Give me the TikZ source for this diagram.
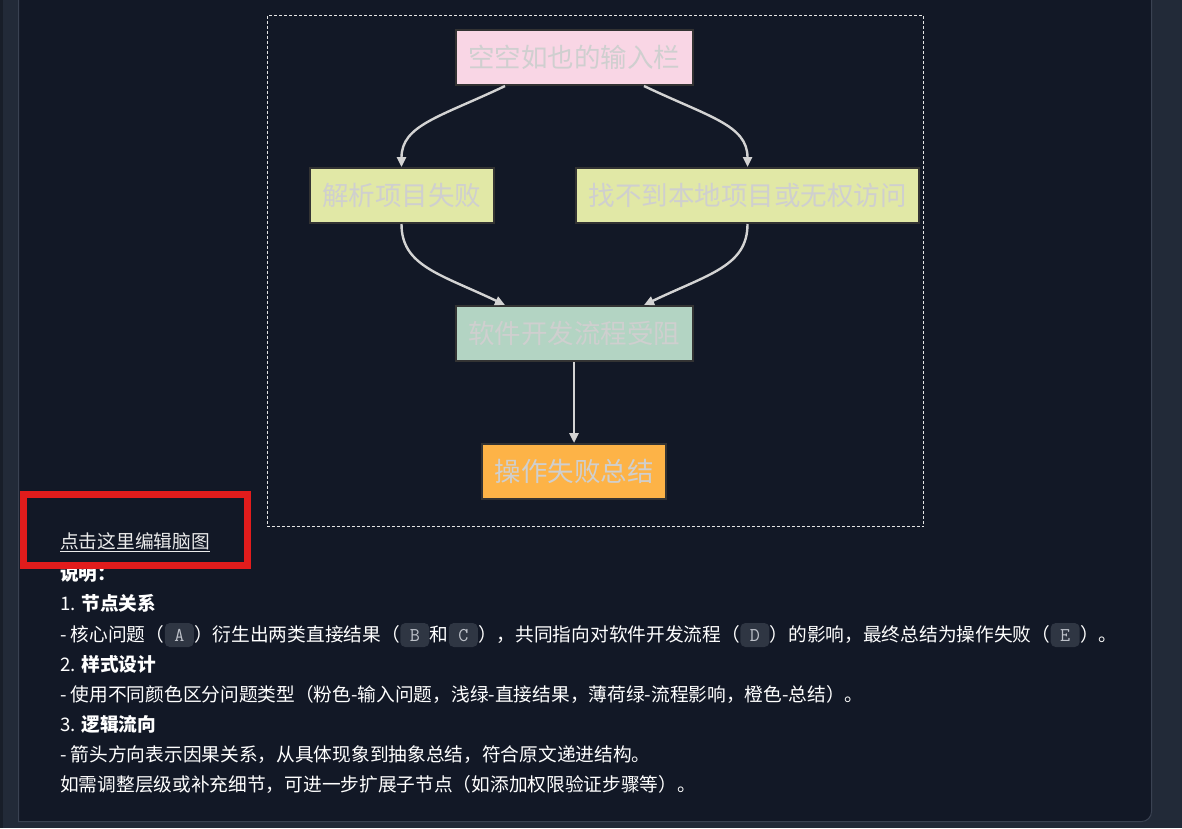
\documentclass[tikz,border=0pt]{standalone}
\usepackage{fontspec}
\setmainfont{Noto Sans CJK SC}
\usepackage{xcolor}
\usepackage{tikz}
\usetikzlibrary{arrows.meta,positioning}
\definecolor{outerbg}{HTML}{222A38}
\definecolor{edgestrip}{HTML}{181E29}
\definecolor{panelbg}{HTML}{121826}
\definecolor{panelline}{HTML}{3A4252}
\definecolor{pinkfill}{HTML}{F9D6E5}
\definecolor{limefill}{HTML}{E1E8A6}
\definecolor{mintfill}{HTML}{B3D4C3}
\definecolor{orangefill}{HTML}{FDB347}
\definecolor{blocktext}{HTML}{CFCFCF}
\definecolor{blockline}{HTML}{333333}
\definecolor{arrowgray}{HTML}{D3D3D3}
\definecolor{markred}{HTML}{E21C1C}
\definecolor{tagbg}{HTML}{2F3643}
\definecolor{tagtext}{HTML}{BEC2CA}
\tikzset{
  block/.style={draw=blockline,line width=2pt,align=center,minimum height=55pt,
    inner xsep=12.5pt,text=blocktext,font=\fontsize{26.5}{30}\selectfont},
  arrow/.style={-{Triangle[length=10pt,width=9pt]},line width=2.4pt,draw=arrowgray},
  note/.style={inner sep=0pt,anchor=base west,text=white,font=\fontsize{18.7}{22}\selectfont},
  tag/.style={fill=tagbg,rounded corners=5pt,inner sep=0pt,anchor=base west,
    minimum width=29pt,text height=14pt,text depth=2pt,inner ysep=4pt,
    text=tagtext,font=\fontsize{19.5}{20}\ttfamily}
}

\begin{document}
\begin{tikzpicture}[x=1pt,y=-1pt,node distance=81pt]
  \useasboundingbox (0,0) rectangle (1182,828);
  % page and panel
  \fill[outerbg] (0,0) rectangle (1182,828);
  \fill[edgestrip] (0,0) rectangle (3,828);
  \path[fill=panelbg,draw=panelline,line width=1pt]
    (18.5,-5) -- (18.5,821.5) [rounded corners=10pt] -- (1151.5,821.5) -- (1151.5,-5);
  \draw[white!90!black,line width=1pt,dash pattern=on 3pt off 2pt]
    (267.5,15.5) rectangle (923.5,526.5);

  % flow chart
  \node[block,fill=pinkfill] (input) at (574,57.5) {空空如也的输入栏};
  \node[block,fill=limefill,below=of input,xshift=-172.5pt] (parse) {解析项目失败};
  \node[block,fill=limefill,below=of input,xshift=173.5pt] (access) {找不到本地项目或无权访问};
  \node[block,fill=mintfill,below=of parse,xshift=172.5pt] (blocked) {软件开发流程受阻};
  \node[block,fill=orangefill,below=of blocked] (summary) {操作失败总结};

  \draw[arrow] ([xshift=-69pt]input.south) .. controls +(-65,31) and +(0,-42) .. (parse.north);
  \draw[arrow] ([xshift=70pt]input.south) .. controls +(65,31) and +(0,-42) .. (access.north);
  \draw[arrow] (parse.south) .. controls +(0,42) and +(-65,-31) .. ([xshift=-69pt]blocked.north);
  \draw[arrow] (access.south) .. controls +(0,42) and +(65,-31) .. ([xshift=70pt]blocked.north);
  \draw[arrow] (blocked) -- (summary);

  % notes below the chart
  \node[note,text=white!92!black] (editlink) at (60,548) {\underline{点击这里编辑脑图}};
  \node[note] (head) at (60,580) {\textbf{说明：}};
  \node[note] (sec1) at (60,610) {1. \textbf{节点关系}};
  \node[note] (rel1) at (60,641) {- 核心问题（};
  \node[tag] (tagA) at (rel1.base east) {A};
  \node[note] (rel2) at (tagA.base east) {）衍生出两类直接结果（};
  \node[tag] (tagB) at (rel2.base east) {B};
  \node[note] (rel3) at (tagB.base east) {和};
  \node[tag] (tagC) at (rel3.base east) {C};
  \node[note] (rel4) at (tagC.base east) {），共同指向对软件开发流程（};
  \node[tag] (tagD) at (rel4.base east) {D};
  \node[note] (rel5) at (tagD.base east) {）的影响，最终总结为操作失败（};
  \node[tag] (tagE) at (rel5.base east) {E};
  \node[note] (rel6) at (tagE.base east) {）。};
  \node[note] (sec2) at (60,671) {2. \textbf{样式设计}};
  \node[note] (style) at (60,701) {- 使用不同颜色区分问题类型（粉色-输入问题，浅绿-直接结果，薄荷绿-流程影响，橙色-总结）。};
  \node[note] (sec3) at (60,731) {3. \textbf{逻辑流向}};
  \node[note] (logic) at (60,761) {- 箭头方向表示因果关系，从具体现象到抽象总结，符合原文递进结构。};
  \node[note] (more) at (60,791) {如需调整层级或补充细节，可进一步扩展子节点（如添加权限验证步骤等）。};

  % red marking round the link
  \draw[markred,line width=7pt] (23.5,494.5) rectangle (247.5,565.5);
\end{tikzpicture}
\end{document}
